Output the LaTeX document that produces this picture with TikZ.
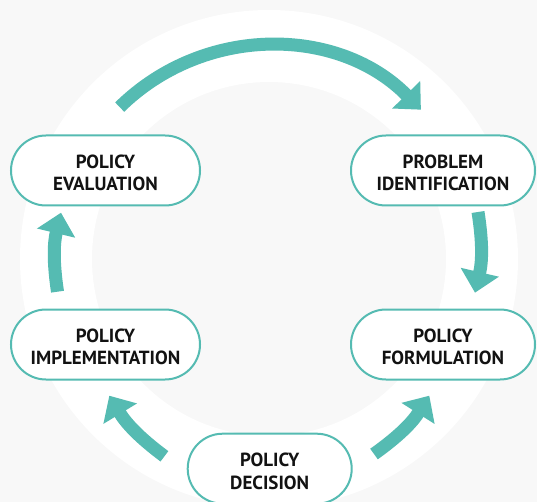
\documentclass[tikz,border=0pt]{standalone}
\usepackage{fontspec}
\setmainfont{PT Sans}
\usetikzlibrary{arrows.meta}
\definecolor{tealc}{HTML}{55BBB2}
\definecolor{bgc}{HTML}{F8F8F8}
\newcommand{\toppad}{\rule{0pt}{18.5pt}}
\begin{document}
\begin{tikzpicture}[x=1pt,y=1pt,
  stage/.style={draw=tealc, line width=2pt, fill=white, rounded corners=35pt,
    minimum height=70pt, align=center, inner sep=0pt,
    font=\fontsize{19}{22.5}\selectfont\bfseries, text=black!93},
  flow/.style={draw=tealc, line width=13pt, -{Triangle[width=38pt,length=21pt]}}]
\useasboundingbox (0,0) rectangle (537,-502);
\fill[bgc] (0,0) rectangle (537,-502);
\coordinate (C) at (269,-259);
\fill[white, even odd rule] (C) circle[radius=249] (C) circle[radius=177];

\node[stage, minimum width=189pt] (eval) at (105.5,-170.5) {\toppad POLICY\\EVALUATION};
\node[stage, minimum width=184pt] (ident) at (443,-170.5) {\toppad PROBLEM\\IDENTIFICATION};
\node[stage, minimum width=189pt] (impl) at (105.5,-344.5) {\toppad POLICY\\IMPLEMENTATION};
\node[stage, minimum width=184pt] (form) at (443,-344.5) {\toppad POLICY\\FORMULATION};
\node[stage, minimum width=164pt] (dec) at (269.7,-468.7) {\toppad POLICY\\DECISION};

\coordinate (t1) at (119.7,-107.1);
\coordinate (t2) at (420.9,-109.7);
\coordinate (r1) at (478,-212);
\coordinate (r2) at (475,-292.7);
\coordinate (l1) at (57.5,-291.7);
\coordinate (l2) at (61,-212.7);
\coordinate (bl1) at (164.4,-456.3);
\coordinate (bl2) at (109.3,-395.7);
\coordinate (br1) at (374,-454);
\coordinate (br2) at (429.3,-395.7);

\draw[flow] (t1) to[bend left=45] (t2);
\draw[flow] (r1) to[bend left=11] (r2);
\draw[flow] (l1) to[bend left=11] (l2);
\draw[flow] (bl1) to[bend left=11] (bl2);
\draw[flow] (br1) to[bend right=11] (br2);
\end{tikzpicture}
\end{document}
